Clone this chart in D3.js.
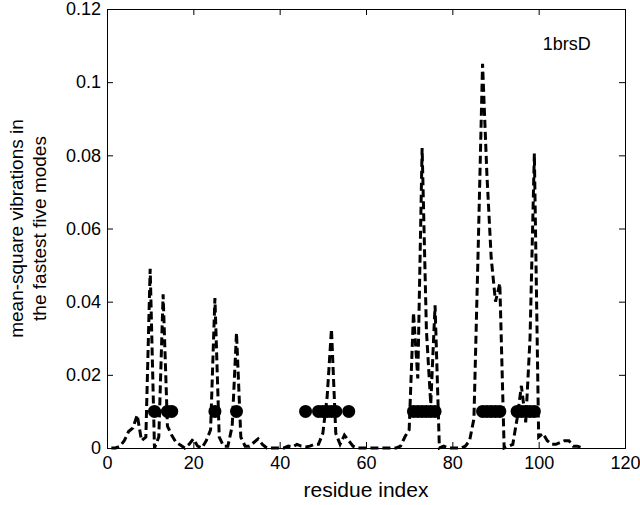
<!DOCTYPE html>
<html>
<head>
<meta charset="utf-8">
<script src="https://cdn.jsdelivr.net/npm/d3@7"></script>
<style>
  body { margin: 0; background: #fff; }
  text { font-family: "Liberation Sans", Arial, sans-serif; fill: #000; }
</style>
</head>
<body>
<div id="chart"></div>
<script>
// residue index 1..110 and mean-square vibration
const residues = d3.range(1, 111);
const msf = [
  0, 0, 0.0005, 0.002, 0.0045, 0.0055, 0.009, 0.002, 0.003, 0.049,
  0, 0.003, 0.042, 0.006, 0.0035, 0.0015, 0.0008, 0, 0.001, 0.0025,
  0.0005, 0, 0.002, 0.005, 0.041, 0.003, 0.0005, 0.0005, 0.006, 0.0315,
  0.003, 0.0005, 0.0005, 0.0015, 0.0025, 0.001, 0, 0, 0, 0,
  0, 0.0005, 0.0003, 0.001, 0.0005, 0.0003, 0.0005, 0.001, 0.001, 0.004,
  0.014, 0.0325, 0.004, 0.001, 0.0035, 0.002, 0.0005, 0, 0, 0,
  0, 0, 0, 0, 0, 0, 0, 0.0005, 0.003, 0.005,
  0.037, 0.019, 0.082, 0.032, 0.012, 0.039, 0, 0.0005, 0, 0,
  0, 0, 0.0005, 0.002, 0.008, 0.055, 0.105, 0.075, 0.052, 0.040,
  0.045, 0, 0.0005, 0.001, 0.008, 0.017, 0.007, 0.030, 0.0805, 0.003,
  0.004, 0.002, 0.001, 0.001, 0.0015, 0.002, 0.002, 0.0005, 0.0005, 0
];
// residues marked with dots (fastest modes) at 0.01
const hotResidues = [11, 14, 15, 25, 30, 46, 49, 50, 51, 52, 53, 56,
  71, 72, 73, 74, 75, 76, 87, 88, 89, 90, 91, 95, 96, 97, 98, 99];
const dotLevel = 0.01;
const xTicks = [0, 20, 40, 60, 80, 100, 120];
const yTicks = [0, 0.02, 0.04, 0.06, 0.08, 0.1, 0.12];
const label = "1brsD";

const width = 640, height = 505;
const margin = {left: 107, right: 15, top: 9, bottom: 57};
const iw = width - margin.left - margin.right;
const ih = height - margin.top - margin.bottom;

const svg = d3.select("#chart").append("svg")
  .attr("width", width).attr("height", height);
const g = svg.append("g").attr("transform", `translate(${margin.left},${margin.top})`);

const x = d3.scaleLinear().domain([0, 120]).range([0, iw]);
const y = d3.scaleLinear().domain([0, 0.12]).range([ih, 0]);

const fmt = d => d === 0 ? "0" : String(+d.toFixed(2));

// axes with inward ticks
const axBottom = g.append("g").attr("transform", `translate(0,${ih})`)
  .call(d3.axisBottom(x).tickValues(xTicks).tickSize(-6).tickPadding(8).tickFormat(d => d));
const axLeft = g.append("g")
  .call(d3.axisLeft(y).tickValues(yTicks).tickSize(-6).tickPadding(6).tickFormat(fmt));
const axTop = g.append("g")
  .call(d3.axisTop(x).tickValues(xTicks).tickSize(-6).tickFormat(""));
const axRight = g.append("g").attr("transform", `translate(${iw},0)`)
  .call(d3.axisRight(y).tickValues(yTicks).tickSize(-6).tickFormat(""));

[axBottom, axLeft, axTop, axRight].forEach(a => {
  a.select(".domain").attr("stroke", "#000").attr("stroke-width", 1);
  a.selectAll(".tick line").attr("stroke", "#000");
  a.selectAll(".tick text").style("font-size", "18px").attr("fill", "#000");
});

// dashed line
const pts = residues.map((r, i) => [r, msf[i]]);
g.append("path")
  .datum(pts)
  .attr("fill", "none")
  .attr("stroke", "#000")
  .attr("stroke-width", 3)
  .attr("stroke-dasharray", "8,4")
  .attr("d", d3.line().x(d => x(d[0])).y(d => y(d[1])));

// dots
g.selectAll("circle.hot")
  .data(hotResidues)
  .enter().append("circle")
  .attr("class", "hot")
  .attr("cx", d => x(d))
  .attr("cy", y(dotLevel))
  .attr("r", 6.5)
  .attr("fill", "#000");

// labels
g.append("text")
  .attr("x", x(106.5)).attr("y", 41)
  .attr("text-anchor", "middle")
  .style("font-size", "18px")
  .text(label);

svg.append("text")
  .attr("x", margin.left + iw / 2).attr("y", 497)
  .attr("text-anchor", "middle")
  .style("font-size", "21px")
  .text("residue index");

const yl = svg.append("text")
  .attr("transform", `translate(0,${margin.top + ih / 2}) rotate(-90)`)
  .attr("text-anchor", "middle")
  .style("font-size", "19px");
yl.append("tspan").attr("x", 0).attr("y", 23).text("mean-square vibrations in");
yl.append("tspan").attr("x", 0).attr("y", 46).text("the fastest five modes");
</script>
</body>
</html>
